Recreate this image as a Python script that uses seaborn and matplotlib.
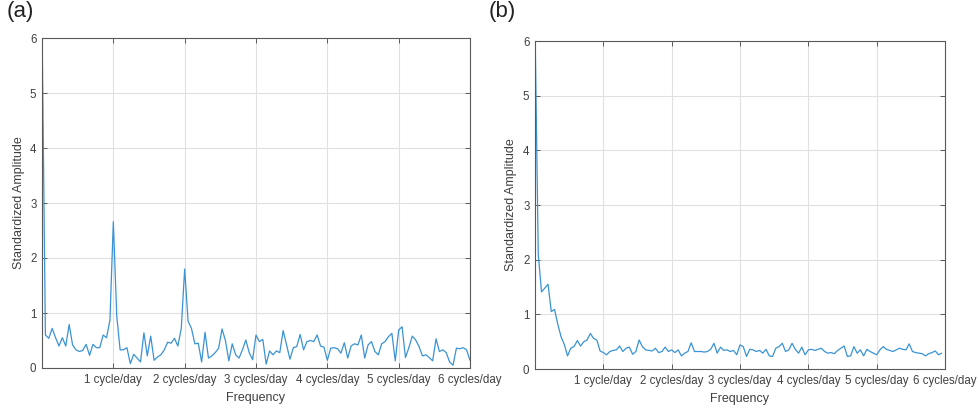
import numpy as np
import pandas as pd
import matplotlib
matplotlib.use("Agg")
import matplotlib.pyplot as plt
import seaborn as sns

# ---------------- data ----------------
BINS_PER_DAY = 21  # frequency bins per cycle/day

amp_a = [6.30, 0.60, 0.54, 0.72, 0.55, 0.40, 0.55, 0.40, 0.79, 0.42,
         0.33, 0.30, 0.32, 0.43, 0.23, 0.43, 0.37, 0.37, 0.60, 0.55,
         0.87, 2.66, 0.95, 0.33, 0.33, 0.37, 0.08, 0.25, 0.18, 0.11,
         0.64, 0.22, 0.58, 0.14, 0.20, 0.24, 0.33, 0.47, 0.45, 0.54,
         0.40, 0.72, 1.80, 0.85, 0.72, 0.44, 0.45, 0.11, 0.65, 0.18,
         0.22, 0.28, 0.36, 0.71, 0.50, 0.13, 0.44, 0.24, 0.18, 0.33,
         0.51, 0.28, 0.15, 0.60, 0.48, 0.52, 0.07, 0.31, 0.24, 0.31,
         0.28, 0.68, 0.42, 0.16, 0.37, 0.39, 0.61, 0.33, 0.48, 0.50,
         0.48, 0.60, 0.40, 0.38, 0.14, 0.36, 0.37, 0.35, 0.27, 0.46,
         0.18, 0.40, 0.44, 0.42, 0.60, 0.18, 0.42, 0.48, 0.30, 0.24,
         0.44, 0.48, 0.57, 0.63, 0.13, 0.69, 0.75, 0.19, 0.37, 0.58,
         0.51, 0.39, 0.22, 0.24, 0.19, 0.13, 0.53, 0.30, 0.33, 0.28,
         0.11, 0.05, 0.36, 0.35, 0.37, 0.33, 0.14]

amp_b = [6.30, 2.10, 1.41, 1.48, 1.55, 1.05, 1.09, 0.82, 0.59, 0.45,
         0.24, 0.38, 0.41, 0.52, 0.42, 0.50, 0.53, 0.65, 0.56, 0.53,
         0.33, 0.30, 0.26, 0.32, 0.34, 0.35, 0.42, 0.32, 0.38, 0.40,
         0.27, 0.32, 0.53, 0.41, 0.35, 0.34, 0.33, 0.38, 0.30, 0.32,
         0.40, 0.32, 0.35, 0.30, 0.35, 0.24, 0.29, 0.32, 0.48, 0.32,
         0.32, 0.32, 0.31, 0.32, 0.36, 0.47, 0.29, 0.40, 0.34, 0.35,
         0.32, 0.34, 0.26, 0.44, 0.41, 0.23, 0.36, 0.35, 0.32, 0.34,
         0.29, 0.36, 0.24, 0.23, 0.38, 0.41, 0.47, 0.32, 0.35, 0.47,
         0.36, 0.29, 0.40, 0.26, 0.35, 0.36, 0.34, 0.36, 0.38, 0.32,
         0.29, 0.30, 0.28, 0.34, 0.38, 0.42, 0.23, 0.24, 0.41, 0.29,
         0.35, 0.24, 0.36, 0.32, 0.29, 0.26, 0.35, 0.41, 0.36, 0.34,
         0.32, 0.35, 0.38, 0.36, 0.35, 0.46, 0.32, 0.30, 0.29, 0.28,
         0.24, 0.28, 0.30, 0.33, 0.26, 0.29]

xtick_vals = [1, 2, 3, 4, 5, 6]
xtick_labels = ["1 cycle/day", "2 cycles/day", "3 cycles/day",
                "4 cycles/day", "5 cycles/day", "6 cycles/day"]
ytick_vals = [0, 1, 2, 3, 4, 5, 6]
panel_labels = ["(a)", "(b)"]

# ---------------- style ----------------
sns.set_theme(style="whitegrid")
plt.rcParams["font.family"] = ["Liberation Sans", "DejaVu Sans"]

LINE = "#3a93d4"
TXT = "#404040"
SPINE = "#5a5a5a"
GRID = "#e0e0e0"

fig = plt.figure(figsize=(9.79, 4.12), dpi=100)
ax_a = fig.add_axes([42 / 979, (412 - 368) / 412, 428 / 979, 330 / 412])
ax_b = fig.add_axes([535 / 979, (412 - 369) / 412, 410 / 979, 328 / 412])

for ax, amp, lab, xl in [(ax_a, amp_a, panel_labels[0], 7 / 979),
                         (ax_b, amp_b, panel_labels[1], 489 / 979)]:
    df = pd.DataFrame({"freq": np.arange(len(amp)) / BINS_PER_DAY,
                       "amp": amp})
    sns.lineplot(data=df, x="freq", y="amp", ax=ax, color=LINE,
                 linewidth=0.9)
    ax.set_xlim(0, 6)
    ax.set_ylim(0, 6)
    ax.set_xticks(xtick_vals)
    ax.set_xticklabels(xtick_labels)
    ax.set_yticks(ytick_vals)
    ax.grid(True, color=GRID, linewidth=0.8)
    ax.set_facecolor("white")
    for s in ax.spines.values():
        s.set_visible(True)
        s.set_color(SPINE)
        s.set_linewidth(0.8)
    ax.tick_params(axis="both", direction="in", length=3.5, width=0.7,
                   color=SPINE, labelsize=8.3, labelcolor=TXT,
                   top=True, right=True, bottom=True, left=True, pad=4)
    ax.set_xlabel("Frequency", fontsize=9, color=TXT)
    ax.set_ylabel("Standardized Amplitude", fontsize=9, color=TXT)
    ax.xaxis.set_label_coords(0.5, -0.073)
    fig.text(xl, 0.972, lab, fontsize=16, color="#222222",
             ha="left", va="center")

ax_a.yaxis.set_label_coords(-0.040, 0.5)
ax_b.yaxis.set_label_coords(-0.044, 0.5)

fig.savefig("out.png", dpi=100, facecolor="white")
